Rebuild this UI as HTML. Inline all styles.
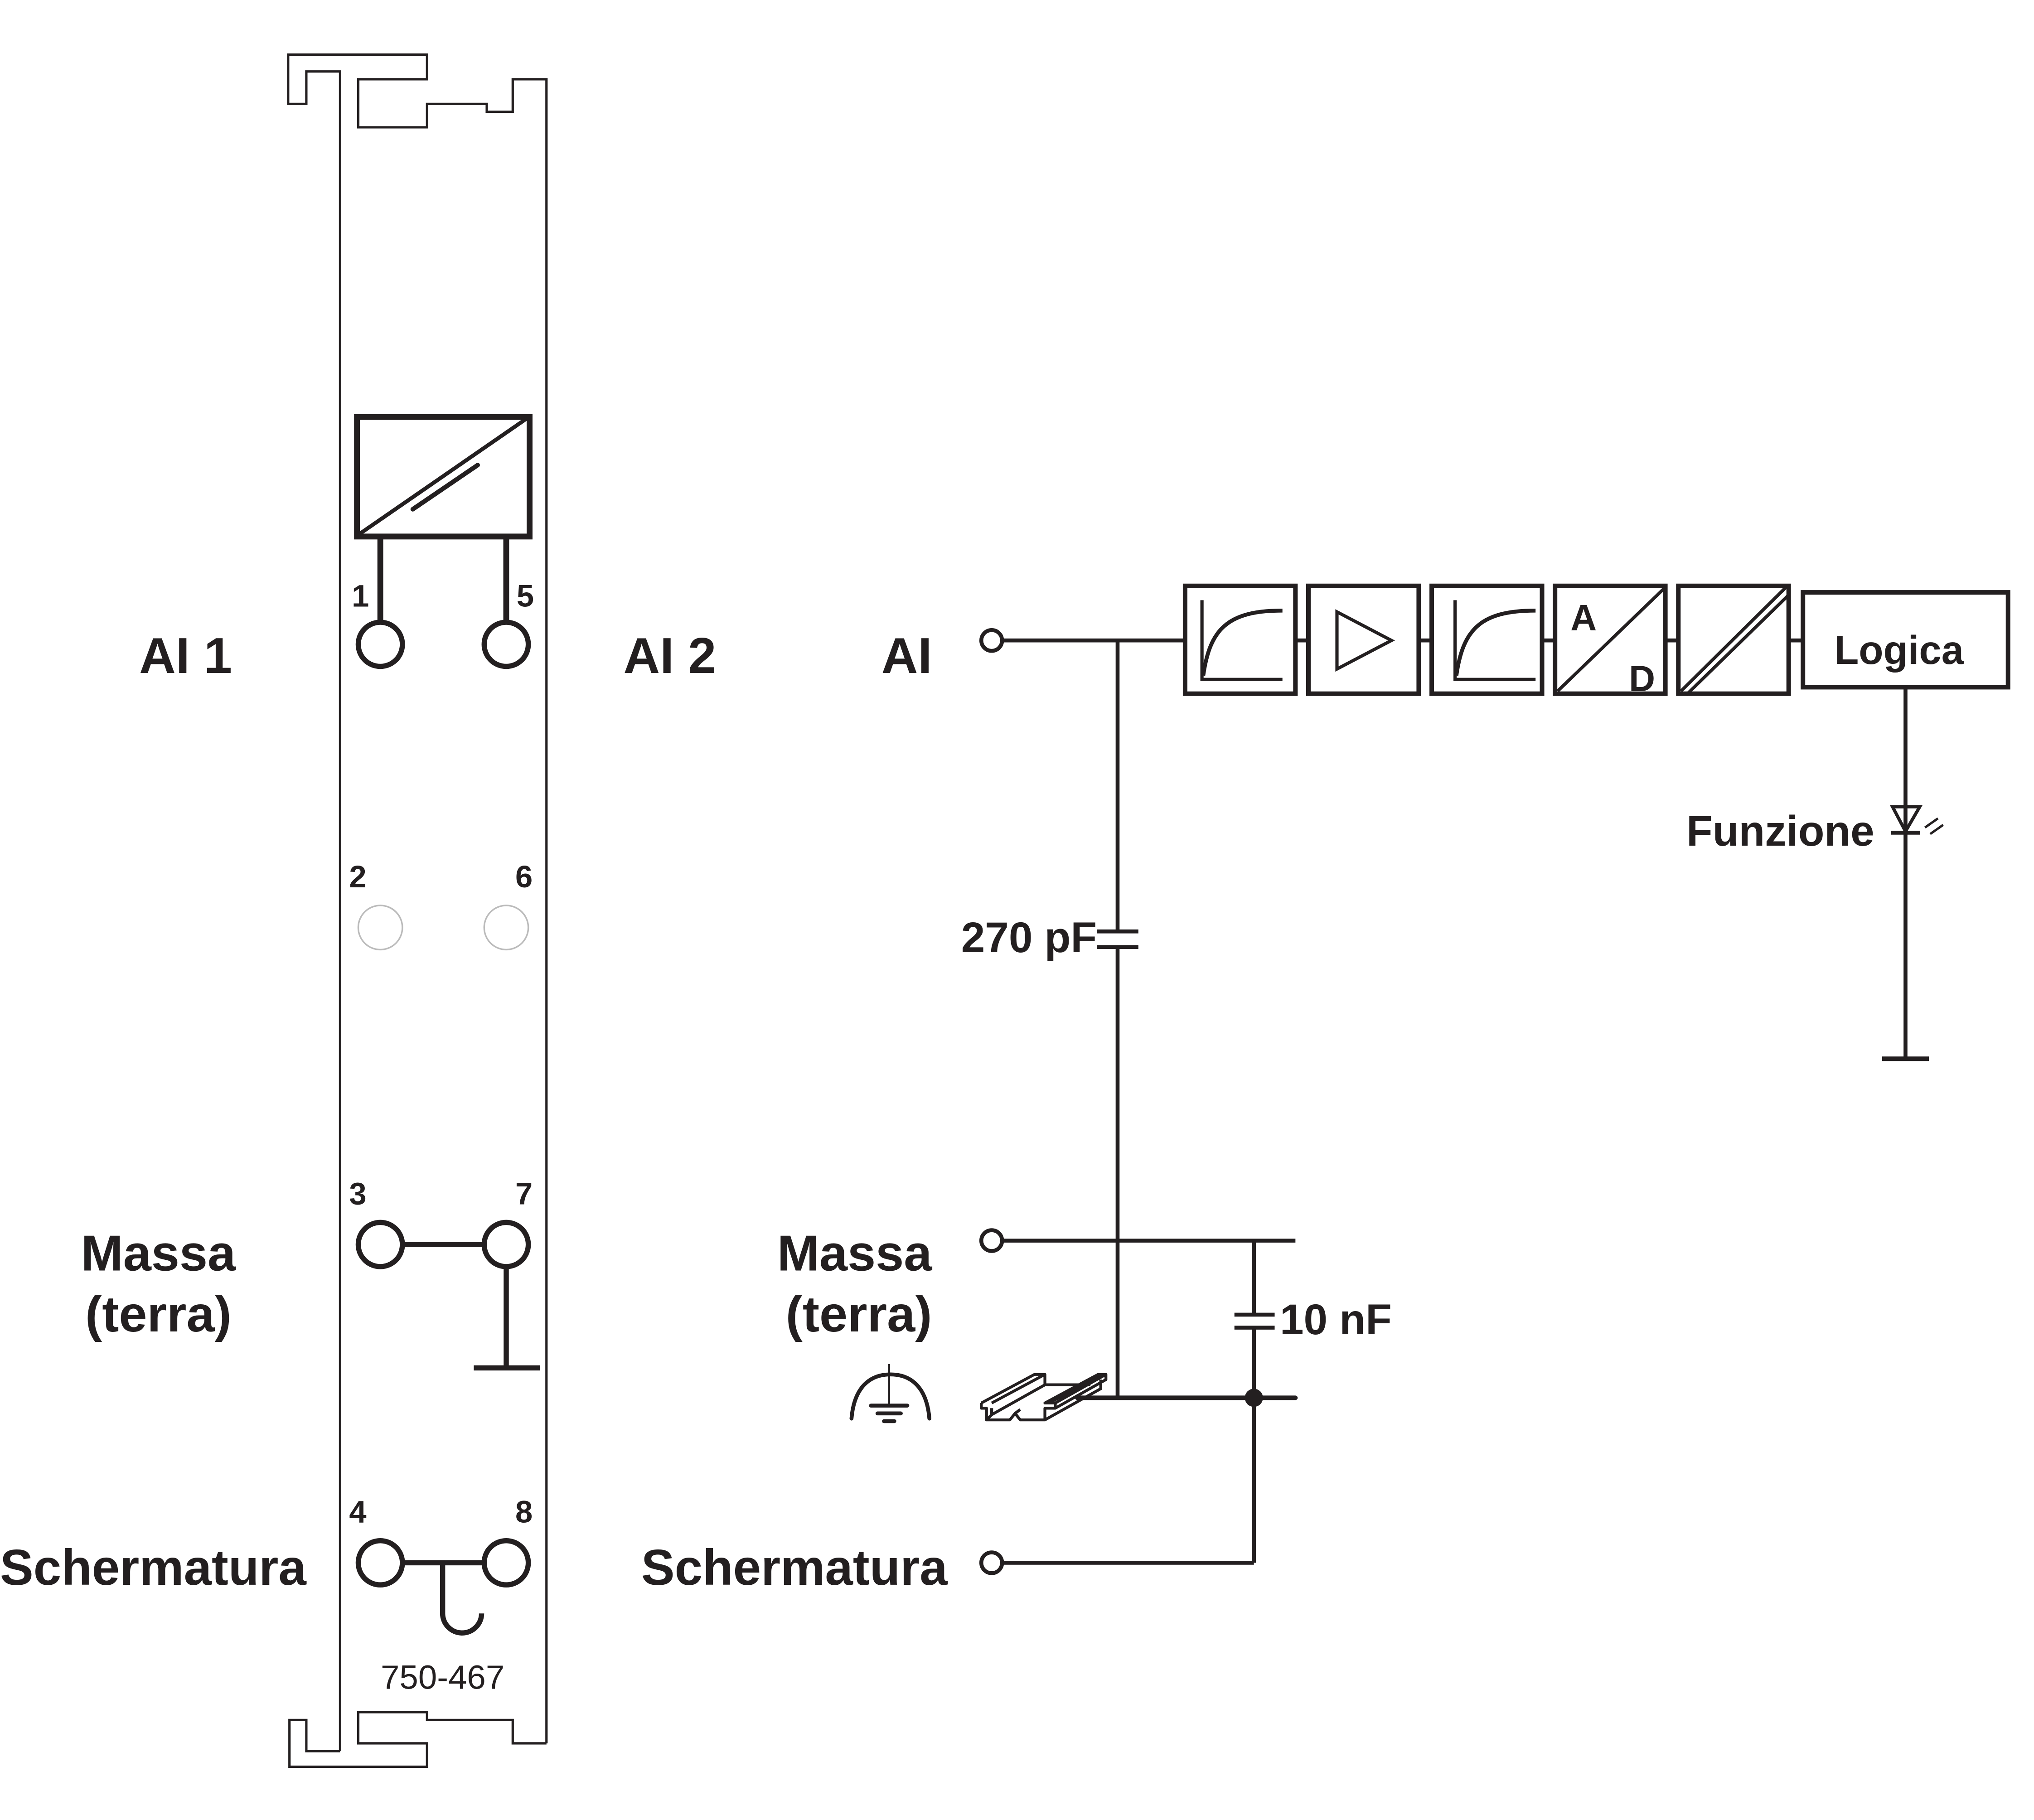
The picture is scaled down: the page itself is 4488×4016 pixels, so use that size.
<!DOCTYPE html>
<html><head><meta charset="utf-8"><style>
html,body{margin:0;padding:0;background:#fff;}
svg{display:block;}
text{font-family:"Liberation Sans",sans-serif;fill:#231f20;}
</style></head><body>
<svg width="4488" height="4016" viewBox="0 0 1567 1401" preserveAspectRatio="none" xmlns="http://www.w3.org/2000/svg">
<g fill="none" stroke="#231f20" stroke-linejoin="miter">
<!-- module outline -->
<path d="M262,1348 V55 H236 V80 H222 V42 H329 V61 H276 V98 H329 V80 H375 V86 H395 V61 H421 V1342" stroke-width="1.8"/>
<path d="M262,1348 H236 V1324 H223 V1360 H329 V1342 H276 V1318 H329 V1324 H395 V1342 H421" stroke-width="1.8"/>
<!-- converter -->
<rect x="275" y="321" width="133" height="92" stroke-width="4.5"/>
<line x1="277" y1="411" x2="406" y2="322" stroke-width="3"/>
<line x1="318" y1="392" x2="368" y2="358" stroke-width="3.5" stroke-linecap="round"/>
<line x1="293" y1="413" x2="293" y2="479" stroke-width="4.5"/>
<line x1="390" y1="413" x2="390" y2="479" stroke-width="4.5"/>
<circle cx="293" cy="496" r="17" stroke-width="4"/>
<circle cx="390" cy="496" r="17" stroke-width="4"/>
<circle cx="293" cy="714" r="17" stroke="#bbb" stroke-width="1.2"/>
<circle cx="390" cy="714" r="17" stroke="#bbb" stroke-width="1.2"/>
<circle cx="293" cy="958" r="17" stroke-width="4"/>
<circle cx="390" cy="958" r="17" stroke-width="4"/>
<line x1="310" y1="958" x2="373" y2="958" stroke-width="4"/>
<line x1="390" y1="975" x2="390" y2="1053" stroke-width="4"/>
<line x1="365" y1="1053" x2="416" y2="1053" stroke-width="4"/>
<circle cx="293" cy="1203" r="17" stroke-width="4"/>
<circle cx="390" cy="1203" r="17" stroke-width="4"/>
<line x1="310" y1="1203" x2="373" y2="1203" stroke-width="4"/>
<path d="M341,1203 V1242 A15,15 0 0 0 371,1242" stroke-width="4"/>

<!-- right schematic -->
<circle cx="764" cy="493" r="8" stroke-width="3"/>
<line x1="772" y1="493" x2="913" y2="493" stroke-width="3"/>
<line x1="861" y1="493" x2="861" y2="717" stroke-width="3"/>
<line x1="861" y1="729" x2="861" y2="1076" stroke-width="3"/>
<line x1="845" y1="717" x2="877" y2="717" stroke-width="3"/>
<line x1="845" y1="729" x2="877" y2="729" stroke-width="3"/>
<g stroke-width="3.5">
<rect x="913" y="451" width="85" height="83"/>
<rect x="1008" y="451" width="85" height="83"/>
<rect x="1103" y="451" width="85" height="83"/>
<rect x="1198" y="451" width="85" height="83"/>
<rect x="1293" y="451" width="85" height="83"/>
<rect x="1389" y="456" width="158" height="73"/>
</g>
<g stroke-width="3">
<line x1="998" y1="493" x2="1008" y2="493"/>
<line x1="1093" y1="493" x2="1103" y2="493"/>
<line x1="1188" y1="493" x2="1198" y2="493"/>
<line x1="1283" y1="493" x2="1293" y2="493"/>
<line x1="1378" y1="493" x2="1389" y2="493"/>
</g>
<path d="M926,462 V523 H988" stroke-width="2.5"/>
<path d="M927,520 C932,485 945,470 988,470" stroke-width="3"/>
<path d="M1121,462 V523 H1183" stroke-width="2.5"/>
<path d="M1122,520 C1127,485 1140,470 1183,470" stroke-width="3"/>
<path d="M1030,471 L1072,493 L1030,515 Z" stroke-width="2.5"/>
<line x1="1200" y1="532" x2="1282" y2="453" stroke-width="2.5"/>
<line x1="1295" y1="532" x2="1376" y2="452" stroke-width="2.5"/>
<line x1="1299" y1="535" x2="1378" y2="458" stroke-width="2.5"/>
<line x1="1468" y1="529" x2="1468" y2="815" stroke-width="3"/>
<path d="M1458,621 H1479 L1468,640 Z" stroke-width="2.5"/>
<line x1="1457" y1="641" x2="1479" y2="641" stroke-width="3"/>
<path d="M1483,637 L1493,630 M1487,642 L1497,635" stroke-width="1.8"/>
<line x1="1450" y1="815" x2="1486" y2="815" stroke-width="3.5"/>

<circle cx="764" cy="955" r="8" stroke-width="3"/>
<line x1="772" y1="955" x2="998" y2="955" stroke-width="3"/>
<line x1="966" y1="955" x2="966" y2="1012" stroke-width="3"/>
<line x1="966" y1="1022" x2="966" y2="1203" stroke-width="3"/>
<line x1="951" y1="1012" x2="982" y2="1012" stroke-width="3"/>
<line x1="951" y1="1022" x2="982" y2="1022" stroke-width="3"/>
<line x1="830" y1="1076" x2="998" y2="1076" stroke-width="3.5" stroke-linecap="round"/>
<circle cx="966" cy="1076" r="7" fill="#231f20" stroke="none"/>
<circle cx="764" cy="1203" r="8" stroke-width="3"/>
<line x1="772" y1="1203" x2="966" y2="1203" stroke-width="3"/>

<!-- earth -->
<path d="M656,1092 C658,1068 670,1058 686,1058 C702,1058 714,1068 716,1092" stroke-width="3" stroke-linecap="round"/>
<line x1="685" y1="1050" x2="685" y2="1082" stroke-width="1.5"/>
<line x1="671" y1="1082" x2="699" y2="1082" stroke-width="3" stroke-linecap="round"/>
<line x1="676" y1="1088" x2="694" y2="1088" stroke-width="3" stroke-linecap="round"/>
<line x1="681" y1="1094" x2="689" y2="1094" stroke-width="3" stroke-linecap="round"/>
<!-- DIN rail -->
<g stroke-width="2.2" stroke-linejoin="round">
<path d="M756,1080 L797,1058 H805 V1066 L764,1089 M756,1080 V1084 H760 V1093 H778 L782,1088 L786,1093 H805 V1084 H813 V1080 H805 L846,1058 H852 V1062 L813,1084"/>
<path d="M764,1080 L805,1058 M764,1084 V1089 M805,1066 H840 M760,1093 L764,1089 M805,1093 L848,1069 V1062 M813,1080 L852,1058 M808,1080 L848,1059 M782,1088 L786,1085"/>
</g>
</g>

<g font-weight="bold">
<text x="271" y="467" font-size="24">1</text>
<text x="398" y="467" font-size="24">5</text>
<text x="269" y="683" font-size="24">2</text>
<text x="397" y="683" font-size="24">6</text>
<text x="269" y="927" font-size="24">3</text>
<text x="397" y="927" font-size="24">7</text>
<text x="269" y="1172" font-size="24">4</text>
<text x="397" y="1172" font-size="24">8</text>
<text x="143" y="518" font-size="39" text-anchor="middle">AI 1</text>
<text x="516" y="518" font-size="39" text-anchor="middle">AI 2</text>
<text x="122" y="978" font-size="39" text-anchor="middle">Massa</text>
<text x="122" y="1025" font-size="39" text-anchor="middle">(terra)</text>
<text x="118" y="1220" font-size="39" text-anchor="middle" textLength="236" lengthAdjust="spacingAndGlyphs">Schermatura</text>
<text x="718" y="518" font-size="39" text-anchor="end">AI</text>
<text x="718" y="978" font-size="39" text-anchor="end">Massa</text>
<text x="718" y="1025" font-size="39" text-anchor="end">(terra)</text>
<text x="730" y="1220" font-size="39" text-anchor="end" textLength="236" lengthAdjust="spacingAndGlyphs">Schermatura</text>
<text x="845" y="733" font-size="33" text-anchor="end">270 pF</text>
<text x="986" y="1027" font-size="33">10 nF</text>
<text x="1463" y="511" font-size="31" text-anchor="middle">Logica</text>
<text x="1444" y="651" font-size="33" text-anchor="end">Funzione</text>
<text x="1220" y="485" font-size="28" text-anchor="middle">A</text>
<text x="1265" y="532" font-size="28" text-anchor="middle">D</text>
</g>
<text x="341" y="1300" font-size="26" text-anchor="middle">750-467</text>
</svg>
</body></html>
